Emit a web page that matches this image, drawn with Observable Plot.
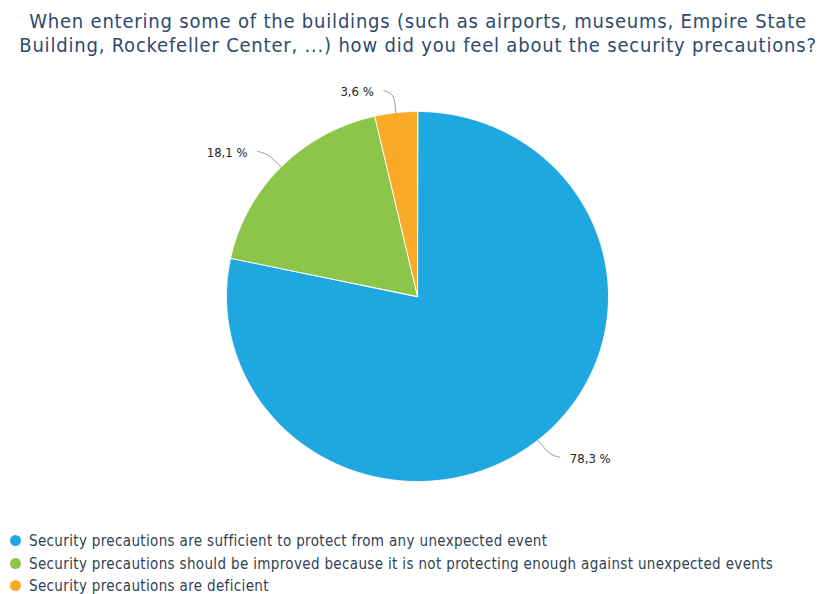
<!DOCTYPE html>
<html><head><meta charset="utf-8">
<script src="https://cdn.jsdelivr.net/npm/d3@7"></script>
<script src="https://cdn.jsdelivr.net/npm/@observablehq/plot@0.6"></script>
<style>
body{margin:0;background:#fff;font-family:"DejaVu Sans Condensed","DejaVu Sans",sans-serif;}
#wrap{position:relative;width:819px;height:594px;overflow:hidden;}
#title{position:absolute;left:0;top:9px;width:836px;text-align:center;font-size:20px;line-height:24px;color:#2f4a6d;letter-spacing:0.8px;}
#chart{position:absolute;left:0;top:70px;}
#legend{position:absolute;left:10px;top:530px;font-size:15px;color:#2f3f55;letter-spacing:0.35px;}
.row{height:22.5px;line-height:22px;white-space:nowrap;}
.dot{display:inline-block;width:11px;height:11px;border-radius:50%;margin-right:8px;vertical-align:0px;}
</style></head><body>
<div id="wrap">
<div id="title">When entering some of the buildings (such as airports, museums, Empire State<br>Building, Rockefeller Center, ...) how did you feel about the security precautions?</div>
<div id="chart"></div>
<div id="legend"></div>
</div>
<script>
const categories = [
  "Security precautions are sufficient to protect from any unexpected event",
  "Security precautions should be improved because it is not protecting enough against unexpected events",
  "Security precautions are deficient"
];
const values = [78.3, 18.1, 3.6];
const labels = ["78,3 %", "18,1 %", "3,6 %"];
const colors = ["#1fa8e0", "#8bc64a", "#fbaa27"];

const pie = d3.pie().sort(null).value(d => d)(values);
const slices = pie.map((p, i) => {
  const pts = [{x: 0, y: 0}];
  const n = Math.max(4, Math.ceil((p.endAngle - p.startAngle) / 0.005));
  for (let k = 0; k <= n; k++) {
    const a = p.startAngle + (p.endAngle - p.startAngle) * k / n;
    pts.push({x: Math.sin(a), y: Math.cos(a)});
  }
  return pts;
});
const connectors = pie.map((p, i) => {
  const a = (p.startAngle + p.endAngle) / 2;
  const s = Math.sin(a), c = Math.cos(a);
  const side = s >= 0 ? 1 : -1;
  const x2 = s * 1.1 + side * 0.052, y2 = c * 1.12;
  return {
    pts: [
      {x: s, y: c},
      {x: s * 1.05, y: c * 1.05},
      {x: s * 1.1, y: c * 1.1},
      {x: x2, y: y2}
    ],
    label: {x: x2, y: y2, text: labels[i], side}
  };
});

const R = 191, RY = 185, cx = 417, cy = 226;
const marks = [];
slices.forEach((s, i) => marks.push(Plot.line(s, {x: "x", y: "y", fill: colors[i], stroke: "#fff", strokeWidth: 1, curve: "linear-closed"})));
connectors.forEach(c => marks.push(Plot.line(c.pts, {x: "x", y: "y", stroke: "#999", strokeWidth: 1, curve: "basis"})));
const labelFont = {fill: "#222", fontSize: 13, fontFamily: "DejaVu Sans Condensed, DejaVu Sans, sans-serif", dy: 1, style: "letter-spacing:0.4px"};
marks.push(Plot.text(connectors.map(c => c.label).filter(d => d.side > 0), {x: "x", y: "y", text: "text", textAnchor: "start", dx: 10, ...labelFont}));
marks.push(Plot.text(connectors.map(c => c.label).filter(d => d.side < 0), {x: "x", y: "y", text: "text", textAnchor: "end", dx: -10, ...labelFont}));

const chart = Plot.plot({
  width: 819, height: 460,
  margin: 0,
  x: {domain: [-1, 1], range: [cx - R, cx + R], axis: null},
  y: {domain: [-1, 1], range: [cy + RY, cy - RY], axis: null},
  marks
});
document.getElementById("chart").appendChild(chart);

const legend = document.getElementById("legend");
categories.forEach((c, i) => {
  const row = document.createElement("div");
  row.className = "row";
  row.innerHTML = `<span class="dot" style="background:${colors[i]}"></span>${c}`;
  legend.appendChild(row);
});
</script>
</body></html>
